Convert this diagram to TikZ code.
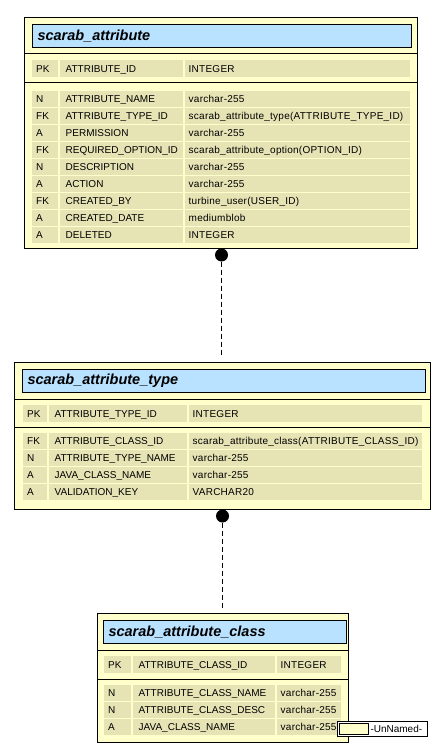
\documentclass[tikz,border=0pt]{standalone}
\usepackage{fontspec}
\setmainfont{Liberation Sans}
\newfontfamily\typefont[LetterSpace=2.5]{Liberation Sans}
\usetikzlibrary{positioning}
\definecolor{entity_yellow}{RGB}{255,255,204}
\definecolor{title_blue}{RGB}{184,226,255}
\definecolor{cell_tan}{RGB}{230,228,181}
\tikzset{
entity_box/.style={
	% The shape:
	rectangle, anchor=north west,
	% The border:
	draw=black, line width=1.2pt,
	% The filling:
	fill=entity_yellow,
	inner sep=0pt
},
title_box/.style={
	% The shape:
	rectangle, anchor=north west,
	minimum height=23pt,
	% The border:
	draw=black, line width=1pt,
	% The filling:
	fill=title_blue,
	% Text sits on the left
	inner xsep=5pt, inner ysep=0pt, align=left,
	% Font
	font=\fontsize{14.5}{16}\selectfont\bfseries\itshape
},
cell_box/.style={
	rectangle, anchor=north west,
	fill=cell_tan, inner sep=0pt
},
cell_text/.style={
	anchor=base west, inner sep=0pt,
	font=\fontsize{10}{12}\selectfont
},
sep_line/.style={draw=black, line width=0.8pt},
rel_line/.style={dash pattern=on 5pt off 3pt, line width=1pt, shorten >=5pt},
rel_dot/.style={circle, fill=black, inner sep=0pt, minimum size=13pt}
}

% one cell: name, left x, right x, top y, height, text pad, text
\newcommand\entcell[7]{%
	\node[cell_box, minimum width={(#3-#2)*1pt}, minimum height=#5pt] (#1) at (#2,#4) {};
	\node[cell_text] at ([xshift=#6pt, yshift=-3.7pt]#1.west) {#7};
}
% one row: [height] name, top y, flag, column, type
\newcommand\entrow[6][15.5]{%
	\entcell{#2_f}{\xa}{\xb}{#3}{#1}{4}{#4}
	\entcell{#2_c}{\xc}{\xd}{#3}{#1}{5.5}{#5}
	\entcell{#2_t}{\xe}{\xf}{#3}{#1}{3.5}{\typefont #6}
}

\begin{document}
\begin{tikzpicture}[x=1pt, y=-1pt]
\useasboundingbox (0,0) rectangle (431,743);

% scarab_attribute
\node[entity_box, minimum width=393pt, minimum height=231pt] (attr_tbl) at (24,17) {};
\draw[sep_line] (24,53) -- (417,53);
\draw[sep_line] (24,82) -- (417,82);
\node[title_box, text width=369pt] (attr_title) at (32,24) {scarab\_attribute};
\def\xa{32}\def\xb{58}\def\xc{60}\def\xd{183}\def\xe{185}\def\xf{410}
\entrow[16.5]{attr_pk}{60}{PK}{ATTRIBUTE\_ID}{INTEGER}
\foreach \fl/\cn/\ty [count=\i from 0] in {
	N/ATTRIBUTE\_NAME/varchar-255,
	FK/ATTRIBUTE\_TYPE\_ID/{scarab\_attribute\_type(ATTRIBUTE\_TYPE\_ID)},
	A/PERMISSION/varchar-255,
	FK/REQUIRED\_OPTION\_ID/{scarab\_attribute\_option(OPTION\_ID)},
	N/DESCRIPTION/varchar-255,
	A/ACTION/varchar-255,
	FK/CREATED\_BY/{turbine\_user(USER\_ID)},
	A/CREATED\_DATE/mediumblob,
	A/DELETED/INTEGER}
	{\entrow{attr_r\i}{91+17*\i}{\fl}{\cn}{\ty}}

% scarab_attribute_type
\node[entity_box, minimum width=416pt, minimum height=147pt] (type_tbl) at (14,362) {};
\draw[sep_line] (14,399) -- (430,399);
\draw[sep_line] (14,427) -- (430,427);
\node[title_box, text width=393pt] (type_title) at (22,369) {scarab\_attribute\_type};
\def\xa{23}\def\xb{47}\def\xc{49}\def\xd{187}\def\xe{189}\def\xf{422}
\entrow[16.5]{type_pk}{405}{PK}{ATTRIBUTE\_TYPE\_ID}{INTEGER}
\foreach \fl/\cn/\ty [count=\i from 0] in {
	FK/ATTRIBUTE\_CLASS\_ID/{scarab\_attribute\_class(ATTRIBUTE\_CLASS\_ID)},
	N/ATTRIBUTE\_TYPE\_NAME/varchar-255,
	A/JAVA\_CLASS\_NAME/varchar-255,
	A/VALIDATION\_KEY/VARCHAR20}
	{\entrow{type_r\i}{433+17*\i}{\fl}{\cn}{\ty}}

% scarab_attribute_class
\node[entity_box, minimum width=251pt, minimum height=129pt] (class_tbl) at (97,613) {};
\draw[sep_line] (97,650) -- (348,650);
\draw[sep_line] (97,679) -- (348,679);
\node[title_box, text width=233pt] (class_title) at (103,620) {scarab\_attribute\_class};
\def\xa{104}\def\xb{131}\def\xc{133}\def\xd{275}\def\xe{277}\def\xf{341}
\entrow[16.5]{class_pk}{656}{PK}{ATTRIBUTE\_CLASS\_ID}{INTEGER}
\foreach \fl/\cn/\ty [count=\i from 0] in {
	N/ATTRIBUTE\_CLASS\_NAME/varchar-255,
	N/ATTRIBUTE\_CLASS\_DESC/varchar-255,
	A/JAVA\_CLASS\_NAME/varchar-255}
	{\entrow{class_r\i}{685+17*\i}{\fl}{\cn}{\ty}}

% relations
\node[rel_dot] (attr_dot) at (221.5,255) {};
\draw[rel_line] (attr_dot) -- (attr_dot |- type_tbl.north);
\node[rel_dot] (type_dot) at (222.5,516) {};
\draw[rel_line] (type_dot) -- (type_dot |- class_tbl.north);

% legend
\node[draw=black, line width=1pt, fill=white, anchor=north west,
	minimum width=90pt, minimum height=15pt, inner sep=0pt] (legend) at (337,721) {};
\node[draw=black, line width=0.8pt, fill=entity_yellow, anchor=west,
	minimum width=29pt, minimum height=11pt, inner sep=0pt] (legend_swatch) at ([xshift=2pt]legend.west) {};
\node[right=1.5pt of legend_swatch, inner sep=0pt, font=\fontsize{10}{12}\selectfont] (legend_text) {-UnNamed-};
\end{tikzpicture}
\end{document}
